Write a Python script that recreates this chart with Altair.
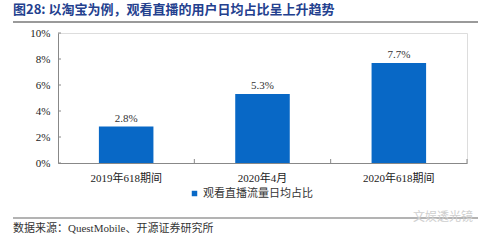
import altair as alt
import pandas as pd

categories = ["2019年618期间", "2020年4月", "2020年618期间"]
values = [0.028, 0.053, 0.077]
value_labels = ["2.8%", "5.3%", "7.7%"]
series_name = "观看直播流量日均占比"
y_ticks = [0, 0.02, 0.04, 0.06, 0.08, 0.10]
title_text = "图28: 以淘宝为例，观看直播的用户日均占比呈上升趋势"
source_text = "数据来源：QuestMobile、开源证券研究所"
watermark_text = "文娱透光镜"

FONT = "'Liberation Serif', 'Noto Sans CJK SC', serif"
CJK = "'Noto Sans CJK SC', sans-serif"
BLUE = "#0868C6"

df = pd.DataFrame({"cat": categories, "val": values, "lab": value_labels,
                   "series": [series_name] * len(categories)})

xscale = alt.Scale(domain=categories, paddingInner=0.6, paddingOuter=0.3)
yscale = alt.Scale(domain=[0, 0.10], nice=False)

xaxis = alt.Axis(labelAngle=0, ticks=False, labelPadding=9, labelFont=FONT,
                 labelFontSize=11, labelColor="#222", domainColor="#888", domainWidth=1)
yaxis = alt.Axis(values=y_ticks, format=".0%", ticks=False, grid=False,
                 labelOverlap=False, labelFlush=False, labelPadding=8,
                 labelFont=FONT, labelFontSize=11, labelColor="#222",
                 domainColor="#888", domainWidth=1)

bars = alt.Chart(df).mark_bar(color=BLUE).encode(
    x=alt.X("cat:N", sort=categories, scale=xscale, title=None, axis=xaxis),
    y=alt.Y("val:Q", scale=yscale, title=None, axis=yaxis),
    color=alt.Color("series:N", scale=alt.Scale(range=[BLUE]),
                    legend=alt.Legend(orient="none", legendX=131, legendY=155, title=None,
                                      symbolType="square", symbolSize=30, labelOffset=3,
                                      labelFont=CJK, labelFontSize=11, labelColor="#333",
                                      symbolStrokeWidth=0)),
)

labels = alt.Chart(df).mark_text(dy=-8, font=FONT, fontSize=11, color="#333").encode(
    x=alt.X("cat:N", sort=categories, scale=xscale, title=None, axis=xaxis),
    y=alt.Y("val:Q", scale=yscale, title=None, axis=yaxis),
    text="lab:N",
)

ytick_df = pd.DataFrame({"v": y_ticks})
yticks = alt.Chart(ytick_df).mark_rule(color="#888").encode(
    y=alt.Y("v:Q", scale=yscale, title=None, axis=yaxis), x=alt.value(0), x2=alt.value(3))

main = alt.layer(bars, labels, yticks)

n = len(categories)
xtick_df = pd.DataFrame({"p": list(range(1, n + 1))})
xticks = alt.Chart(xtick_df).mark_rule(color="#888").encode(
    x=alt.X("p:Q", scale=alt.Scale(domain=[0, n]), axis=None),
    y=alt.value(130), y2=alt.value(126))

title = alt.Chart(pd.DataFrame({"t": [title_text]})).mark_text(
    align="left", baseline="middle", font=CJK, fontSize=13, fontWeight="bold",
    color="#23408E").encode(text="t:N", x=alt.value(-45), y=alt.value(-23))

top_line = alt.Chart(pd.DataFrame({"a": [0]})).mark_rule(color="#9a9a9a", strokeWidth=2).encode(
    x=alt.value(-45), x2=alt.value(420), y=alt.value(-11))
bottom_line = alt.Chart(pd.DataFrame({"a": [0]})).mark_rule(color="#9a9a9a", strokeWidth=1.5).encode(
    x=alt.value(-45), x2=alt.value(420), y=alt.value(185))

source = alt.Chart(pd.DataFrame({"t": [source_text]})).mark_text(
    align="left", baseline="middle", font=FONT, fontSize=11, color="#333").encode(
    text="t:N", x=alt.value(-45), y=alt.value(196))

watermark = alt.Chart(pd.DataFrame({"t": [watermark_text]})).mark_text(
    align="center", baseline="middle", font=CJK, fontSize=12, color="#cfcfcf").encode(
    text="t:N", x=alt.value(385), y=alt.value(184))

chart = alt.layer(main, xticks, title, top_line, bottom_line, source, watermark).resolve_scale(
    x="independent").properties(
    width=409, height=130,
    autosize=alt.AutoSizeParams(type="none"),
    padding={"left": 58, "top": 33, "right": 32, "bottom": 82},
).configure_view(stroke=None).configure(background="white")

chart.save("out.html", embed_options={"renderer": "svg", "actions": False})
